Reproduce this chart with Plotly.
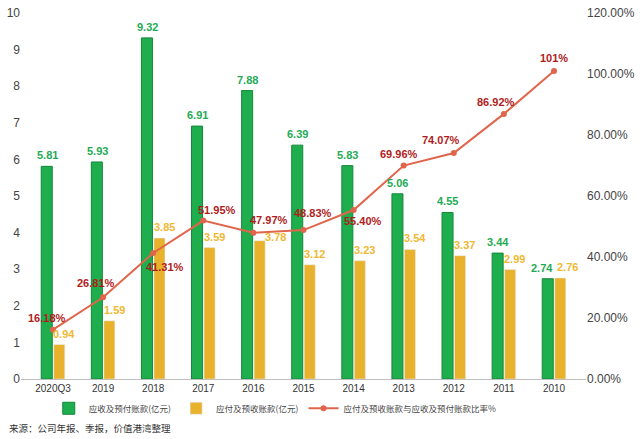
import plotly.graph_objects as go

categories = ["2020Q3", "2019", "2018", "2017", "2016", "2015", "2014", "2013", "2012", "2011", "2010"]
receivable = [5.81, 5.93, 9.32, 6.91, 7.88, 6.39, 5.83, 5.06, 4.55, 3.44, 2.74]
payable = [0.94, 1.59, 3.85, 3.59, 3.78, 3.12, 3.23, 3.54, 3.37, 2.99, 2.76]
ratio = [16.18, 26.81, 41.31, 51.95, 47.97, 48.83, 55.40, 69.96, 74.07, 86.92, 101]
ratio_labels = ["16.18%", "26.81%", "41.31%", "51.95%", "47.97%", "48.83%", "55.40%", "69.96%", "74.07%", "86.92%", "101%"]

# label offsets in pixels (style only): (dx, dy) with dy positive = downwards
ratio_label_offsets = [(-6, -12), (-7, -14), (12, 14), (14, -11), (16, -13), (9, -17),
                       (9, 11), (-5, -12), (-13, -13), (-8, -12), (0, -13)]

FONT = "Liberation Sans, Arial, Noto Sans CJK SC"
GREEN = "#1fae4e"
YELLOW = "#e9b22c"
RED = "#e0654b"

fig = go.Figure()
fig.add_trace(go.Bar(
    x=categories, y=receivable, name="应收及预付账款(亿元)",
    marker=dict(color=GREEN, line=dict(color="#13873a", width=1)),
))
fig.add_trace(go.Bar(
    x=categories, y=payable, name="应付及预收账款(亿元)",
    marker=dict(color=YELLOW),
))
fig.add_trace(go.Scatter(
    x=categories, y=ratio, name="应付及预收账款与应收及预付账款比率%",
    yaxis="y2", mode="lines+markers",
    line=dict(color=RED, width=2), marker=dict(color=RED, size=6),
    cliponaxis=False,
))

n = len(categories)
for i, (g, y, r, rl) in enumerate(zip(receivable, payable, ratio, ratio_labels)):
    last = (i == n - 1)
    fig.add_annotation(x=i, y=g, xref="x", yref="y", text=f"{g:.2f}", showarrow=False,
                       xanchor="center", yanchor="bottom", yshift=3,
                       xshift=-12 if last else -6,
                       font=dict(color="#1faa55", size=11, family=FONT, weight="bold"))
    if last:
        ys_dx, ys_dy = 13, 3
    elif i == 4:
        ys_dx, ys_dy = 22, -4
    else:
        ys_dx, ys_dy = 11, 3
    fig.add_annotation(x=i, y=y, xref="x", yref="y", text=f"{y:.2f}", showarrow=False,
                       xanchor="center", yanchor="bottom", yshift=ys_dy, xshift=ys_dx,
                       font=dict(color="#f0b832", size=11, family=FONT, weight="bold"))
    dx, dy = ratio_label_offsets[i]
    fig.add_annotation(x=i, y=r, xref="x", yref="y2", text=rl, showarrow=False,
                       xanchor="center", yanchor="middle", xshift=dx, yshift=-dy,
                       font=dict(color="#b01c1c", size=11, family=FONT, weight="bold"))

fig.update_layout(
    width=640, height=439,
    margin=dict(l=21, r=54, t=13, b=60, autoexpand=False),
    plot_bgcolor="white", paper_bgcolor="white",
    font=dict(family=FONT, color="#333333", size=11),
    barmode="group", bargap=0.5, bargroupgap=0.12,
    xaxis=dict(type="category", showline=True, linecolor="#bfbfbf", linewidth=1, ticks="",
               tickfont=dict(size=10, color="#333333"), automargin=False),
    yaxis=dict(range=[0, 10], dtick=1, showgrid=False, zeroline=False, automargin=False,
               tickfont=dict(size=12, color="#444444")),
    yaxis2=dict(range=[0, 120], dtick=20, overlaying="y", side="right", showgrid=False,
                zeroline=False, tickformat=".2f", ticksuffix="%", automargin=False,
                tickfont=dict(size=12, color="#444444")),
    legend=dict(orientation="h", x=0.45, xanchor="center", yref="container", y=0.07,
                yanchor="middle",
                font=dict(size=8.5, color="#444444", family="Noto Sans CJK SC"),
                itemwidth=30, tracegroupgap=0),
    showlegend=True,
)
fig.add_annotation(text="来源：公司年报、季报，价值港湾整理", xref="paper", yref="paper",
                   x=-0.025, y=-0.134, xanchor="left", yanchor="middle", showarrow=False,
                   font=dict(size=9.5, color="#333333", family="Noto Sans CJK SC"))

fig.write_html("out.html")
